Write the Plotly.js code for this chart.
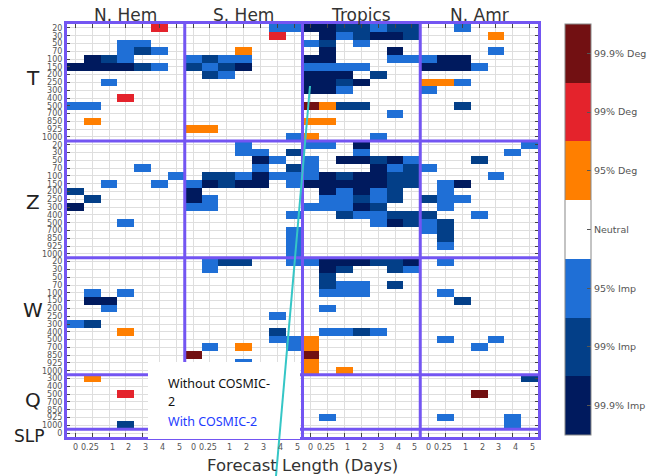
<!DOCTYPE html>
<html>
<head>
<meta charset="utf-8">
<script src="https://cdn.plot.ly/plotly-3.0.1.min.js"></script>
<style>html,body{margin:0;padding:0;background:#fff;}#chart{width:650px;height:476px;}</style>
</head>
<body>
<div id="chart"></div>
<script>
// ---- categories / labels ----
const regions = ['N. Hem', 'S. Hem', 'Tropics', 'N. Amr'];
const leadLabels = ['0', '0.25', '1', '2', '3', '4', '5'];
const variables = ['T', 'Z', 'W', 'Q', 'SLP'];
const levels = [20, 30, 50, 70, 100, 150, 200, 250, 300, 400, 500, 700, 850, 925, 1000];
const qLevels = [300, 400, 500, 700, 850, 925, 1000];
const slpLevels = [0];
const scoreNames = ['99.9% Imp', '99% Imp', '95% Imp', 'Neutral', '95% Deg', '99% Deg', '99.9% Deg'];
const scoreValues = [-3, -2, -1, 0, 1, 2, 3];
// 3 = 99.9% Deg, 2 = 99% Deg, 1 = 95% Deg, 0 = neutral, -1 = 95% Imp, -2 = 99% Imp, -3 = 99.9% Imp
// rows = levels, columns = lead times

const nhemT = [
 [0,0,0,0,0,2,0],[0,0,0,0,0,0,0],[0,0,0,-1,-1,0,0],[0,0,0,-1,-2,-1,0],[0,-3,-2,-1,0,0,0],
 [-3,-3,-3,-3,-2,-1,0],[0,0,0,0,0,0,0],[0,0,-1,0,0,0,0],[0,0,0,0,0,0,0],[0,0,0,2,0,0,0],
 [-1,-1,0,0,0,0,0],[0,0,0,0,0,0,0],[0,1,0,0,0,0,0],[0,0,0,0,0,0,0],[0,0,0,0,0,0,0]];
const shemT = [
 [0,0,0,0,0,-1,-1],[0,0,0,0,0,2,0],[0,0,0,0,0,0,0],[0,0,0,1,0,0,0],[-1,-2,-1,-1,0,0,0],
 [-2,-1,-2,-3,0,0,0],[0,-2,-1,0,0,0,0],[0,0,0,0,0,0,0],[0,0,0,0,0,0,0],[0,0,0,0,0,0,0],
 [0,0,0,0,0,0,0],[0,0,0,0,0,0,0],[0,0,0,0,0,0,0],[1,1,0,0,0,0,0],[0,0,0,0,0,0,-1]];
const tropT = [
 [-3,-3,-2,-2,-1,-2,-2],[0,-3,-1,-2,-3,-3,-2],[-1,-2,0,-1,0,0,0],[0,-3,0,0,0,-3,0],[-3,-3,0,0,0,-1,-1],
 [-1,-1,-1,-1,0,0,0],[-3,-3,-3,0,-2,0,0],[-3,-3,-2,-3,0,0,0],[-3,-3,-1,0,0,0,0],[0,0,0,0,0,0,0],
 [3,1,-2,-2,0,0,0],[0,0,0,0,0,-1,0],[1,1,0,0,0,0,0],[0,0,0,0,0,0,0],[1,0,0,0,-1,0,0]];
const namrT = [
 [0,0,-1,0,0,0,0],[0,0,0,0,1,0,0],[0,0,0,0,0,0,0],[0,0,0,0,-1,0,0],[-1,-3,-3,0,0,0,0],
 [-3,-3,-3,-1,0,0,0],[0,0,0,0,0,0,0],[1,1,-1,0,0,0,0],[-1,0,0,0,0,0,0],[0,0,0,0,0,0,0],
 [0,0,-2,0,0,0,0],[0,0,0,0,0,0,0],[0,0,0,0,0,0,0],[0,0,0,0,0,0,0],[0,0,0,0,0,0,0]];

const nhemZ = [
 [0,0,0,0,0,0,0],[0,0,0,0,0,0,0],[0,0,0,0,0,0,0],[0,0,0,0,-1,0,0],[0,0,0,0,0,0,-1],
 [0,0,-1,0,0,-1,0],[-2,0,0,0,0,0,0],[0,-2,0,0,0,0,0],[-3,0,0,0,0,0,0],[0,0,0,0,0,0,0],
 [0,0,0,-1,0,0,0],[0,0,0,0,0,0,0],[0,0,0,0,0,0,0],[0,0,0,0,0,0,0],[0,0,0,0,0,0,0]];
const shemZ = [
 [0,0,0,-1,0,0,0],[0,0,0,-1,-1,0,-2],[0,0,0,0,-3,-1,0],[0,0,0,0,-1,0,-2],[0,-2,-2,-1,-3,-1,-1],
 [-1,-3,-2,-3,-3,0,-1],[-3,0,0,0,0,0,0],[-3,-1,0,0,0,0,0],[-1,-1,0,0,0,0,0],[0,0,0,0,0,0,-1],
 [0,0,0,0,0,0,0],[0,0,0,0,0,0,-1],[0,0,0,0,0,0,-1],[0,0,0,0,0,0,-1],[0,0,0,0,0,0,-1]];
const tropZ = [
 [-1,-1,0,-3,0,0,0],[0,0,0,-1,0,0,0],[-1,0,-3,-3,-2,-3,-1],[-1,0,0,0,-3,-1,-2],[-1,-3,-2,-3,-3,-2,-2],
 [-3,-3,-3,-3,-3,-2,-2],[0,-3,-1,-3,-1,-2,0],[0,-1,-1,-2,-1,-2,0],[-1,-1,-1,-3,-2,0,0],[0,0,-2,-1,-1,-2,-2],
 [0,0,0,0,-1,-3,-2],[0,0,0,0,0,0,0],[0,0,0,0,0,0,0],[0,0,0,0,0,0,0],[0,0,0,0,0,0,0]];
const namrZ = [
 [0,0,0,0,0,0,-1],[0,0,0,0,0,-1,0],[0,0,0,-2,0,0,0],[-1,0,0,0,0,0,0],[0,0,0,0,-1,0,0],
 [0,-1,-3,0,0,0,0],[0,-1,0,0,0,0,0],[-2,-1,-1,0,0,0,0],[0,-1,0,0,0,0,0],[-2,0,0,-1,0,0,0],
 [-1,-2,0,0,0,0,0],[-1,-2,0,0,0,0,0],[0,-2,0,0,0,0,0],[0,-1,0,0,0,0,0],[0,0,0,0,0,0,0]];

const nhemW = [
 [0,0,0,0,0,0,0],[0,0,0,0,0,0,0],[0,0,0,0,0,0,0],[0,0,0,0,0,0,0],[0,-1,0,-1,0,0,0],
 [0,-3,-3,0,0,0,0],[0,0,-1,0,0,0,0],[0,0,0,0,0,0,0],[-1,-2,0,0,0,0,0],[0,0,0,1,0,0,0],
 [0,0,0,0,0,0,0],[0,0,0,0,0,0,0],[0,0,0,0,0,0,0],[0,0,0,0,0,0,0],[0,0,0,0,0,0,0]];
const shemW = [
 [0,-1,-2,-2,0,0,-1],[0,-1,0,0,0,0,0],[0,0,0,0,0,0,0],[0,0,0,0,0,0,0],[0,0,0,0,0,0,0],
 [0,0,0,0,0,0,0],[0,0,0,0,0,0,0],[0,0,0,0,0,-1,0],[0,0,0,0,0,0,0],[0,0,0,0,0,-2,0],
 [0,0,0,0,0,-1,-1],[0,-1,0,1,0,0,-1],[3,0,0,0,0,0,0],[0,0,0,-1,0,0,0],[0,0,0,0,0,0,0]];
const tropW = [
 [-1,-3,-3,-3,-2,-2,-3],[0,-3,-2,0,0,-2,-1],[0,-2,0,0,0,0,0],[0,-2,-1,-1,0,-2,0],[0,-1,-1,-1,0,0,0],
 [0,0,0,0,0,0,0],[0,-1,0,0,0,0,0],[0,0,0,0,0,0,0],[0,0,0,0,0,0,0],[0,-1,-1,-2,-1,0,0],
 [1,0,0,0,0,0,0],[1,0,0,0,0,0,0],[3,0,0,0,0,0,0],[1,0,0,0,0,0,0],[1,0,1,0,0,0,0]];
const namrW = [
 [0,-1,0,0,0,0,0],[0,0,0,0,0,0,0],[0,0,0,0,0,0,0],[0,0,0,0,0,0,0],[0,-1,0,0,0,0,0],
 [0,0,-2,0,0,0,0],[0,0,0,0,0,0,0],[0,0,0,0,0,0,0],[0,0,0,0,0,0,0],[0,0,0,0,0,0,0],
 [0,-1,0,0,-1,0,0],[0,0,0,-1,0,0,0],[0,0,0,0,0,0,0],[0,0,0,0,0,0,0],[0,0,0,0,0,0,0]];

const nhemQ = [[0,1,0,0,0,0,0],[0,0,0,0,0,0,0],[0,0,0,2,0,0,0],[0,0,0,0,0,0,0],[0,0,0,0,0,0,0],[0,0,0,0,0,0,0],[0,0,0,-2,0,0,0]];
const shemQ = [[0,0,0,0,0,0,0],[0,0,0,0,0,0,0],[0,0,0,0,0,0,0],[0,0,0,0,0,0,0],[0,0,0,0,0,0,0],[0,0,0,0,0,0,0],[0,0,0,0,0,0,0]];
const tropQ = [[0,0,0,0,0,0,0],[0,0,0,0,0,0,0],[0,0,0,0,0,0,0],[0,0,0,0,0,0,0],[0,0,0,0,0,0,0],[0,-1,0,0,0,0,0],[0,0,0,0,0,0,0]];
const namrQ = [[0,0,0,0,0,0,-2],[0,0,0,0,0,0,0],[0,0,0,3,0,0,0],[0,0,0,0,0,0,0],[0,0,0,0,0,0,0],[0,-1,0,0,0,-1,0],[0,0,0,0,0,-1,0]];

const nhemSLP = [[0,0,0,0,0,0,0]];
const shemSLP = [[0,0,0,0,0,0,0]];
const tropSLP = [[0,0,0,0,0,0,0]];
const namrSLP = [[0,0,0,0,0,0,0]];

// ---- assemble ----
const regionData = [
  [nhemT, nhemZ, nhemW, nhemQ, nhemSLP],
  [shemT, shemZ, shemW, shemQ, shemSLP],
  [tropT, tropZ, tropW, tropQ, tropSLP],
  [namrT, namrZ, namrW, namrQ, namrSLP]
];
const varLevels = [levels, levels, levels, qLevels, slpLevels];
const nLead = leadLabels.length;

const yText = [];
const groupStart = [];
varLevels.forEach(function(lv){ groupStart.push(yText.length); lv.forEach(function(v){ yText.push(String(v)); }); });
const nRows = yText.length;
const nCols = regions.length * nLead;

const z = [];
for (let r = 0; r < nRows; r++) z.push(new Array(nCols).fill(null));
regionData.forEach(function(reg, p){
  reg.forEach(function(block, vi){
    block.forEach(function(row, li){
      row.forEach(function(val, j){
        z[groupStart[vi] + li][p * nLead + j] = (val === 0 ? null : val);
      });
    });
  });
});
const xIdx = []; for (let i = 0; i < nCols; i++) xIdx.push(i);
const yIdx = []; for (let i = 0; i < nRows; i++) yIdx.push(i);

const colors = ['#001a5e', '#033f88', '#1f6fd6', '#ffffff', '#ff7f00', '#e4232c', '#721012'];
const cs = [];
colors.forEach(function(c, i){ cs.push([i / 7, c]); cs.push([(i + 1) / 7, c]); });

// pixel geometry helpers
const L = 67, R = 538, T = 24, B = 437;
const W = R - L, H = B - T;
function px(x){ return (x - L) / W; }
function py(y){ return (B - y) / H; }

const purple = '#7355f2';
const shapes = [];
for (let p = 1; p < regions.length; p++) {
  shapes.push({type:'line', xref:'x', yref:'paper', x0:p*nLead-0.5, x1:p*nLead-0.5, y0:0, y1:1, line:{color:purple, width:3}});
}
for (let g = 1; g < groupStart.length; g++) {
  shapes.push({type:'line', xref:'paper', yref:'y', x0:0, x1:1, y0:groupStart[g]-0.5, y1:groupStart[g]-0.5, line:{color:purple, width:3}});
}
// white text box
shapes.push({type:'rect', xref:'paper', yref:'paper', x0:px(148), x1:px(300), y0:py(439), y1:py(362), fillcolor:'#ffffff', line:{width:0}, layer:'above'});
// cyan pointer line
shapes.push({type:'line', xref:'paper', yref:'paper', x0:px(310), y0:py(86), x1:px(276), y1:py(476), line:{color:'#35c6c6', width:2}});

const annotations = [];
regions.forEach(function(name, p){
  annotations.push({xref:'x', yref:'paper', x:p*nLead+3, y:py(15), text:name, showarrow:false, xanchor:'center', yanchor:'middle', font:{size:17, color:'#333'}});
});
const groupLabelY = [78, 202, 310, 400, 436];
const groupLabelX = [33, 33, 33, 33, 29];
variables.forEach(function(v, i){
  annotations.push({xref:'paper', yref:'paper', x:px(groupLabelX[i]), y:py(groupLabelY[i]), text:v, showarrow:false, xanchor:'center', yanchor:'middle', font:{size: v === 'SLP' ? 17 : 20, color:'#222'}});
});
annotations.push({xref:'paper', yref:'paper', x:px(302), y:py(465), text:'Forecast Length (Days)', showarrow:false, xanchor:'center', yanchor:'middle', font:{size:16.5, color:'#333'}});
annotations.push({xref:'paper', yref:'paper', x:px(166), y:py(383), text:'Without COSMIC-', showarrow:false, xanchor:'left', yanchor:'middle', font:{family:'Noto Sans', size:12.5, color:'#111'}});
annotations.push({xref:'paper', yref:'paper', x:px(166), y:py(401), text:'2', showarrow:false, xanchor:'left', yanchor:'middle', font:{family:'Noto Sans', size:12.5, color:'#111'}});
annotations.push({xref:'paper', yref:'paper', x:px(166), y:py(421), text:'With COSMIC-2', showarrow:false, xanchor:'left', yanchor:'middle', font:{family:'Noto Sans', size:12.5, color:'#1e3cff'}});

// lead-time labels under each panel (added last so they sit on top)
const xTickVals = [];
const labOffsets = [0.0, -0.12, 0.18, 0.18, 0.18, 0.18, 0.18];
for (let p = 0; p < regions.length; p++) {
  for (let j = 0; j < nLead; j++) {
    xTickVals.push(p * nLead + j);
    annotations.push({xref:'x', yref:'paper', x:p * nLead + j + labOffsets[j], y:py(447), text:leadLabels[j],
      showarrow:false, xanchor:'center', yanchor:'middle', font:{size:8, color:'#555'}});
  }
}

const trace = {
  type:'heatmap', x:xIdx, y:yIdx, z:z,
  zmin:-3.5, zmax:3.5, colorscale:cs, hoverinfo:'skip', xgap:0, ygap:0,
  colorbar:{
    x:px(565), xanchor:'left', xpad:0, ypad:0,
    y:py(24), yanchor:'top', lenmode:'pixels', len:411,
    thickness:26, thicknessmode:'pixels',
    outlinecolor:'#888', outlinewidth:1,
    tickmode:'array', tickvals:scoreValues, ticktext:scoreNames,
    ticks:'inside', ticklen:4, tickcolor:'#555',
    tickfont:{size:9.5, color:'#555'}
  }
};

const layout = {
  width:650, height:476,
  margin:{l:L, r:650-R, t:T, b:476-B, pad:0, autoexpand:false},
  paper_bgcolor:'#fff', plot_bgcolor:'#fff',
  font:{family:'DejaVu Sans', color:'#444'},
  showlegend:false,
  xaxis:{range:[-0.5, nCols-0.5], tickmode:'array', tickvals:xTickVals, showticklabels:false,
         showgrid:true, gridcolor:'#dedede', gridwidth:1, zeroline:false, automargin:false,
         ticks:'inside', ticklen:4, tickcolor:'#444', showline:true, linecolor:purple, linewidth:3, mirror:'ticks'},
  yaxis:{range:[nRows-0.5, -0.5], tickmode:'array', tickvals:yIdx, ticktext:yText, automargin:false,
         showgrid:true, gridcolor:'#dedede', gridwidth:1, zeroline:false,
         ticks:'inside', ticklen:3, tickcolor:'#444', tickfont:{size:8, color:'#555'},
         showline:true, linecolor:purple, linewidth:3, mirror:'ticks'},
  shapes:shapes,
  annotations:annotations
};

Plotly.newPlot('chart', [trace], layout, {staticPlot:true, displayModeBar:false});
</script>
</body>
</html>
